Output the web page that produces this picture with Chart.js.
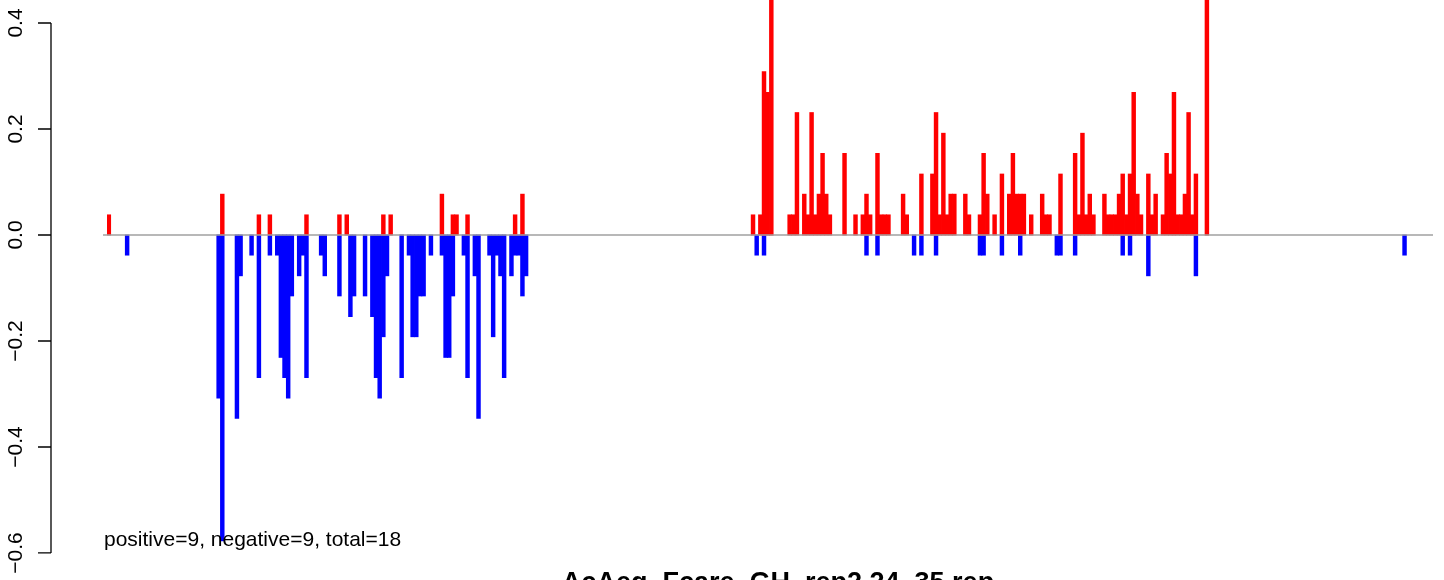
<!DOCTYPE html>
<html>
<head>
<meta charset="utf-8">
<script src="https://cdn.jsdelivr.net/npm/chart.js@4/dist/chart.umd.min.js"></script>
<style>
  html, body { margin: 0; padding: 0; background: #fff; }
  #wrap { width: 1444px; height: 580px; }
</style>
</head>
<body>
<div id="wrap"><canvas id="c" width="1444" height="580"></canvas></div>
<script>
// bin positions along the sequence (362 bins in total)
var binCount = 362;

var posBins = [0, 31, 41, 44, 54, 63, 65, 75, 77, 91, 94, 95, 98, 111, 113,
  176, 178, 179, 180, 181, 186, 187, 188, 190, 191, 192, 193, 194, 195, 196, 197,
  201, 204, 206, 207, 208, 210, 211, 212, 213, 217, 218, 222,
  225, 226, 227, 228, 229, 230, 231, 234, 235, 238, 239, 240, 242, 244,
  246, 247, 248, 249, 250, 252, 255, 256, 257, 260,
  264, 265, 266, 267, 268, 269, 272, 273, 274, 275, 276, 277, 278, 279, 280, 281, 282,
  284, 285, 286, 288, 289, 290, 291, 292, 293, 294, 295, 296, 297, 300];
var posValues = [0.038, 0.077, 0.038, 0.038, 0.038, 0.038, 0.038, 0.038, 0.038, 0.077, 0.038, 0.038, 0.038, 0.038, 0.077,
  0.038, 0.038, 0.308, 0.269, 0.5, 0.038, 0.038, 0.231, 0.077, 0.038, 0.231, 0.038, 0.077, 0.154, 0.077, 0.038,
  0.154, 0.038, 0.038, 0.077, 0.038, 0.154, 0.038, 0.038, 0.038, 0.077, 0.038, 0.115,
  0.115, 0.231, 0.038, 0.192, 0.038, 0.077, 0.077, 0.077, 0.038, 0.038, 0.154, 0.077, 0.038, 0.115,
  0.077, 0.154, 0.077, 0.077, 0.077, 0.038, 0.077, 0.038, 0.038, 0.115,
  0.154, 0.038, 0.192, 0.038, 0.077, 0.038, 0.077, 0.038, 0.038, 0.038, 0.077, 0.115, 0.038, 0.115, 0.269, 0.077, 0.038,
  0.115, 0.038, 0.077, 0.038, 0.154, 0.115, 0.269, 0.038, 0.038, 0.077, 0.231, 0.038, 0.115, 0.5];

var negBins = [5, 30, 31, 35, 36, 39, 41, 44, 46, 47, 48, 49, 50, 52, 53, 54, 58, 59, 63,
  66, 67, 70, 72, 73, 74, 75, 76, 80, 82, 83, 84, 85, 86, 88, 91, 92, 93, 94,
  97, 98, 100, 101, 104, 105, 106, 107, 108, 110, 111, 112, 113, 114,
  177, 179, 207, 210, 220, 222, 226, 238, 239, 244, 249, 259, 260, 264, 277, 279, 284, 297, 354];
var negValues = [-0.038, -0.308, -0.577, -0.346, -0.077, -0.038, -0.269, -0.038, -0.038, -0.231, -0.269, -0.308, -0.115, -0.077, -0.038, -0.269, -0.038, -0.077, -0.115,
  -0.154, -0.115, -0.115, -0.154, -0.269, -0.308, -0.192, -0.077, -0.269, -0.038, -0.192, -0.192, -0.115, -0.115, -0.038, -0.038, -0.231, -0.231, -0.115,
  -0.038, -0.269, -0.077, -0.346, -0.038, -0.192, -0.038, -0.077, -0.269, -0.077, -0.038, -0.038, -0.115, -0.077,
  -0.038, -0.038, -0.038, -0.038, -0.038, -0.038, -0.038, -0.038, -0.038, -0.038, -0.038, -0.038, -0.038, -0.038, -0.038, -0.038, -0.077, -0.077, -0.038];

var yTicks = [-0.6, -0.4, -0.2, 0.0, 0.2, 0.4];
var noteText = 'positive=9, negative=9, total=18';
var titleText = 'AcAeg_Fcare_GH_rep2.24_35.rep';

var labels = [];
var posData = [];
var negData = [];
for (var i = 0; i < binCount; i++) {
  labels.push(String(i));
  posData.push(null);
  negData.push(null);
}
posBins.forEach(function (b, k) { posData[b] = posValues[k]; });
negBins.forEach(function (b, k) { negData[b] = negValues[k]; });

var FONT = '"Liberation Sans", Arial, Helvetica, sans-serif';

function fmtTick(v) {
  var s = Math.abs(v).toFixed(1);
  return v < 0 ? '\u2212' + s : s;
}

// R-like decorations: zero line, left axis, note and title
var decor = {
  id: 'decor',
  afterDatasetsDraw: function (chart) {
    var ctx = chart.ctx;
    var y = chart.scales.y;
    var area = chart.chartArea;
    var y0 = y.getPixelForValue(0);

    ctx.save();
    ctx.strokeStyle = '#a0a0a0';
    ctx.lineWidth = 1.5;
    ctx.beginPath();
    ctx.moveTo(area.left - 4, y0);
    ctx.lineTo(area.right + 1, y0);
    ctx.stroke();

    var axisX = 51;
    ctx.strokeStyle = '#000';
    ctx.lineWidth = 1.3;
    ctx.beginPath();
    ctx.moveTo(axisX, y.getPixelForValue(yTicks[0]));
    ctx.lineTo(axisX, y.getPixelForValue(yTicks[yTicks.length - 1]));
    yTicks.forEach(function (t) {
      var py = y.getPixelForValue(t);
      ctx.moveTo(axisX, py);
      ctx.lineTo(axisX - 13, py);
    });
    ctx.stroke();

    ctx.fillStyle = '#000';
    ctx.font = '21px ' + FONT;
    ctx.textAlign = 'center';
    ctx.textBaseline = 'alphabetic';
    yTicks.forEach(function (t) {
      ctx.save();
      ctx.translate(21.5, y.getPixelForValue(t));
      ctx.rotate(-Math.PI / 2);
      ctx.fillText(fmtTick(t), 0, 0);
      ctx.restore();
    });

    ctx.textAlign = 'left';
    ctx.fillText(noteText, 104, 546);

    ctx.font = 'bold 27px ' + FONT;
    ctx.textAlign = 'center';
    ctx.fillText(titleText, 778, 591);
    ctx.restore();
  }
};

new Chart(document.getElementById('c'), {
  type: 'bar',
  data: {
    labels: labels,
    datasets: [
      { label: 'positive', data: posData, backgroundColor: '#ff0000' },
      { label: 'negative', data: negData, backgroundColor: '#0000ff' }
    ]
  },
  options: {
    responsive: false,
    animation: false,
    devicePixelRatio: 1,
    layout: { padding: { left: 107, right: 12, top: 0, bottom: 0 } },
    datasets: {
      bar: {
        grouped: false,
        barPercentage: 1,
        categoryPercentage: 1,
        borderWidth: 0,
        inflateAmount: 0.4
      }
    },
    plugins: {
      legend: { display: false },
      tooltip: { enabled: false },
      title: { display: false }
    },
    scales: {
      x: { display: false, grid: { display: false } },
      y: { display: false, min: -0.651, max: 0.4434, grid: { display: false } }
    }
  },
  plugins: [decor]
});
</script>
</body>
</html>
